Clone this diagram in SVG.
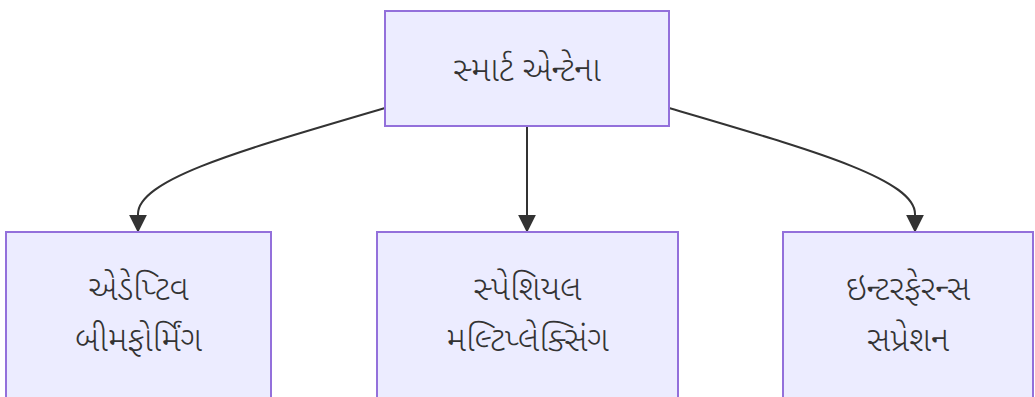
<svg xmlns="http://www.w3.org/2000/svg" width="1035" height="397" viewBox="0 0 1035 397">
<style>
.node rect{fill:#ECECFF;stroke:#9370DB;stroke-width:2px}
.node text{font-family:"Noto Sans Gujarati","Noto Sans","Lato",sans-serif;font-size:34px;font-weight:300;fill:#333;text-anchor:middle}
.edge{fill:none;stroke:#333;stroke-width:2px}
</style>
<defs>
<marker id="arrow" viewBox="0 0 10 10" refX="9" refY="5" markerUnits="userSpaceOnUse" markerWidth="18" markerHeight="18" orient="auto">
<path d="M0,0 L10,5 L0,10 z" fill="#333"/>
</marker>
</defs>
<g id="connectors">
<path class="edge" d="M385,108 C250,148 138,178 138,214 L138,231" marker-end="url(#arrow)"/>
<path class="edge" d="M527,126 L527,231" marker-end="url(#arrow)"/>
<path class="edge" d="M669,108 C804,148 915,178 915,214 L915,231" marker-end="url(#arrow)"/>
</g>
<g id="n0" class="node">
<rect x="385" y="11" width="284" height="115"/>
<text x="527" y="81">સ્માર્ટ એન્ટેના</text>
</g>
<g id="n1" class="node">
<rect x="6" y="232" width="265" height="180"/>
<text x="138.5" y="300">એડેપ્ટિવ</text>
<text x="138.5" y="351">બીમફોર્મિંગ</text>
</g>
<g id="n2" class="node">
<rect x="377" y="232" width="301" height="180"/>
<text x="527.5" y="300">સ્પેશિયલ</text>
<text x="527.5" y="351">મલ્ટિપ્લેક્સિંગ</text>
</g>
<g id="n3" class="node">
<rect x="783" y="232" width="250" height="180"/>
<text x="908" y="300">ઇન્ટરફેરન્સ</text>
<text x="908" y="351">સપ્રેશન</text>
</g>
</svg>
